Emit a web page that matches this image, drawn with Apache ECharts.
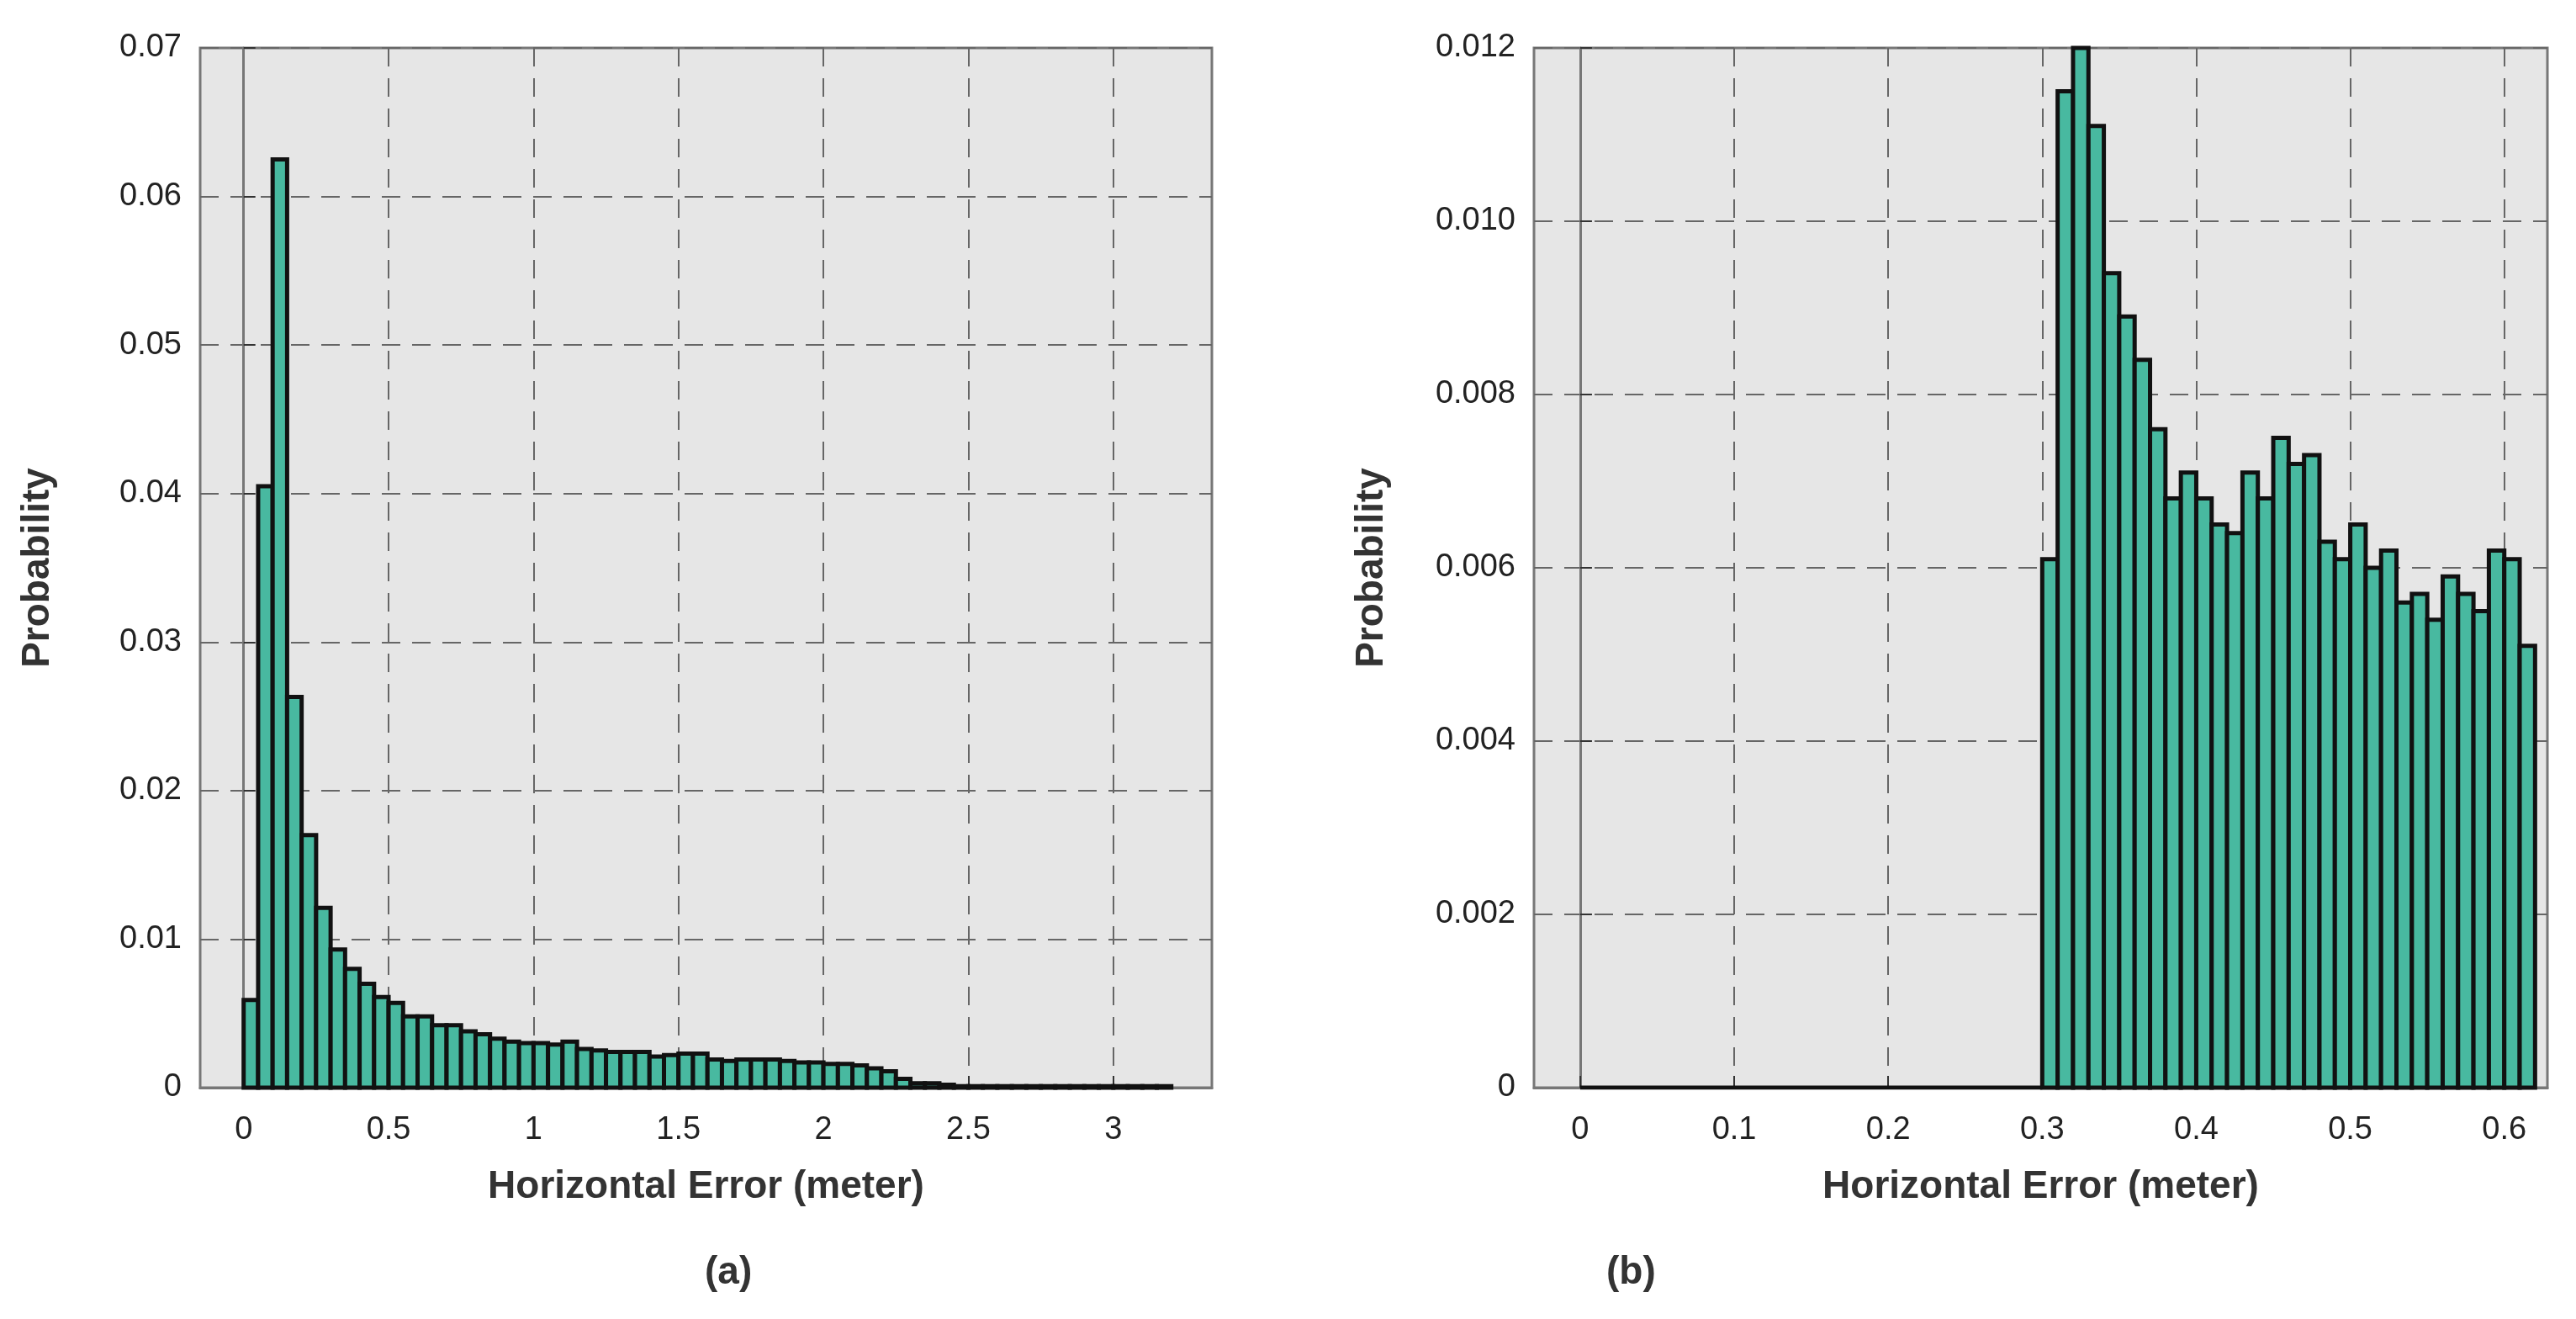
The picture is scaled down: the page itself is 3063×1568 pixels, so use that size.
<!DOCTYPE html>
<html><head><meta charset="utf-8">
<script src="https://cdn.jsdelivr.net/npm/echarts@6/dist/echarts.min.js"></script>
<style>html,body{margin:0;background:#fff}#c{width:3063px;height:1568px}</style>
</head><body><div id="c"></div>
<script>
const binWidthA = 0.05;
const valuesA = [0.0059,0.0405,0.0625,0.0263,0.0170,0.0121,0.0093,0.0080,0.0070,0.0061,
0.0057,0.0048,0.0048,0.0042,0.0042,0.0038,0.0036,0.0033,0.0031,0.0030,
0.0030,0.0029,0.0031,0.0026,0.0025,0.0024,0.0024,0.0024,0.0021,0.0022,
0.0023,0.0023,0.0019,0.0018,0.0019,0.0019,0.0019,0.0018,0.0017,0.0017,
0.0016,0.0016,0.0015,0.0013,0.0011,0.0006,0.0003,0.0003,0.0002,0.0001,
0.0001,0.0001,0.0001,0.0001,0.0001,0.0001,0.0001,0.0001,0.0001,0.0001,
0.0001,0.0001,0.0001,0.0001];
const binWidthB = 0.01;
const startB = 0.30;
const valuesB = [0.0061,0.0115,0.0120,0.0111,0.0094,0.0089,0.0084,0.0076,0.0068,0.0071,
0.0068,0.0065,0.0064,0.0071,0.0068,0.0075,0.0072,0.0073,0.0063,0.0061,
0.0065,0.0060,0.0062,0.0056,0.0057,0.0054,0.0059,0.0057,0.0055,0.0062,
0.0061,0.0051];
const zeroSpanB = [0, 0.30];
const xTicksA = [0,0.5,1,1.5,2,2.5,3];
const xTicksB = [0,0.1,0.2,0.3,0.4,0.5,0.6];

const dataA = valuesA.map((v,i)=>[i*binWidthA,(i+1)*binWidthA,v]);
const dataB = valuesB.map((v,i)=>[startB+i*binWidthB,startB+(i+1)*binWidthB,v]);

function renderBar(params, api){
  const p0 = api.coord([api.value(0), api.value(2)]);
  const p1 = api.coord([api.value(1), 0]);
  return {type:'rect', shape:{x:p0[0], y:p0[1], width:p1[0]-p0[0], height:p1[1]-p0[1]},
    style:{fill:'#48b9a0', stroke:'#111', lineWidth:5}};
}
const font = 'Arial, "Liberation Sans", sans-serif';
const split = {show:true, lineStyle:{color:'#666', type:[22,14], width:2}};
function xAxis(idx,min,max,ticks,name){
  return {type:'value', gridIndex:idx, min, max, name, nameLocation:'middle', nameGap:95,
    nameTextStyle:{fontSize:46, fontWeight:'bold', color:'#333', fontFamily:font},
    axisLine:{show:true, lineStyle:{color:'#777', width:3}},
    axisTick:{show:true, customValues:ticks, length:-14, lineStyle:{color:'#333',width:2}},
    axisLabel:{customValues:ticks, fontSize:38, color:'#222', margin:32, fontFamily:font},
    splitLine:split};
}
function yAxis(idx,max,interval,fmt){
  return {type:'value', gridIndex:idx, min:0, max, interval, name:'Probability', nameLocation:'middle', nameGap:170,
    nameTextStyle:{fontSize:46, fontWeight:'bold', color:'#333', fontFamily:font},
    axisLine:{show:true, lineStyle:{color:'#777', width:3}},
    axisTick:{show:true, inside:true, length:14, lineStyle:{color:'#333',width:2}},
    axisLabel:{fontSize:38, color:'#222', margin:22, fontFamily:font, formatter:v=>v===0?'0':v.toFixed(fmt)},
    splitLine:split};
}
const chart = echarts.init(document.getElementById('c'));
chart.setOption({
  backgroundColor:'#fff', animation:false,
  grid:[{left:238, top:57, width:1203, height:1236, show:true, backgroundColor:'#e6e6e6', borderColor:'#777', borderWidth:3},
        {left:1824, top:57, width:1205, height:1236, show:true, backgroundColor:'#e6e6e6', borderColor:'#777', borderWidth:3}],
  xAxis:[xAxis(0,-0.15,3.34,xTicksA,'Horizontal Error (meter)'), xAxis(1,-0.03,0.628,xTicksB,'Horizontal Error (meter)')],
  yAxis:[yAxis(0,0.07,0.01,2), yAxis(1,0.012,0.002,3)],
  graphic:[
    {type:'text', left:838, top:1490, style:{text:'(a)', font:'bold 46px '+font, fill:'#333', textAlign:'center'}},
    {type:'text', left:1910, top:1490, style:{text:'(b)', font:'bold 46px '+font, fill:'#333'}}
  ],
  series:[
    {type:'custom', xAxisIndex:0, yAxisIndex:0, renderItem:renderBar, data:dataA, encode:{x:[0,1], y:2}},
    {type:'line', xAxisIndex:1, yAxisIndex:1, data:zeroSpanB.map(x=>[x,0]), symbol:'none', lineStyle:{color:'#111', width:5}},
    {type:'custom', xAxisIndex:1, yAxisIndex:1, renderItem:renderBar, data:dataB, encode:{x:[0,1], y:2}}
  ]
});
</script></body></html>
